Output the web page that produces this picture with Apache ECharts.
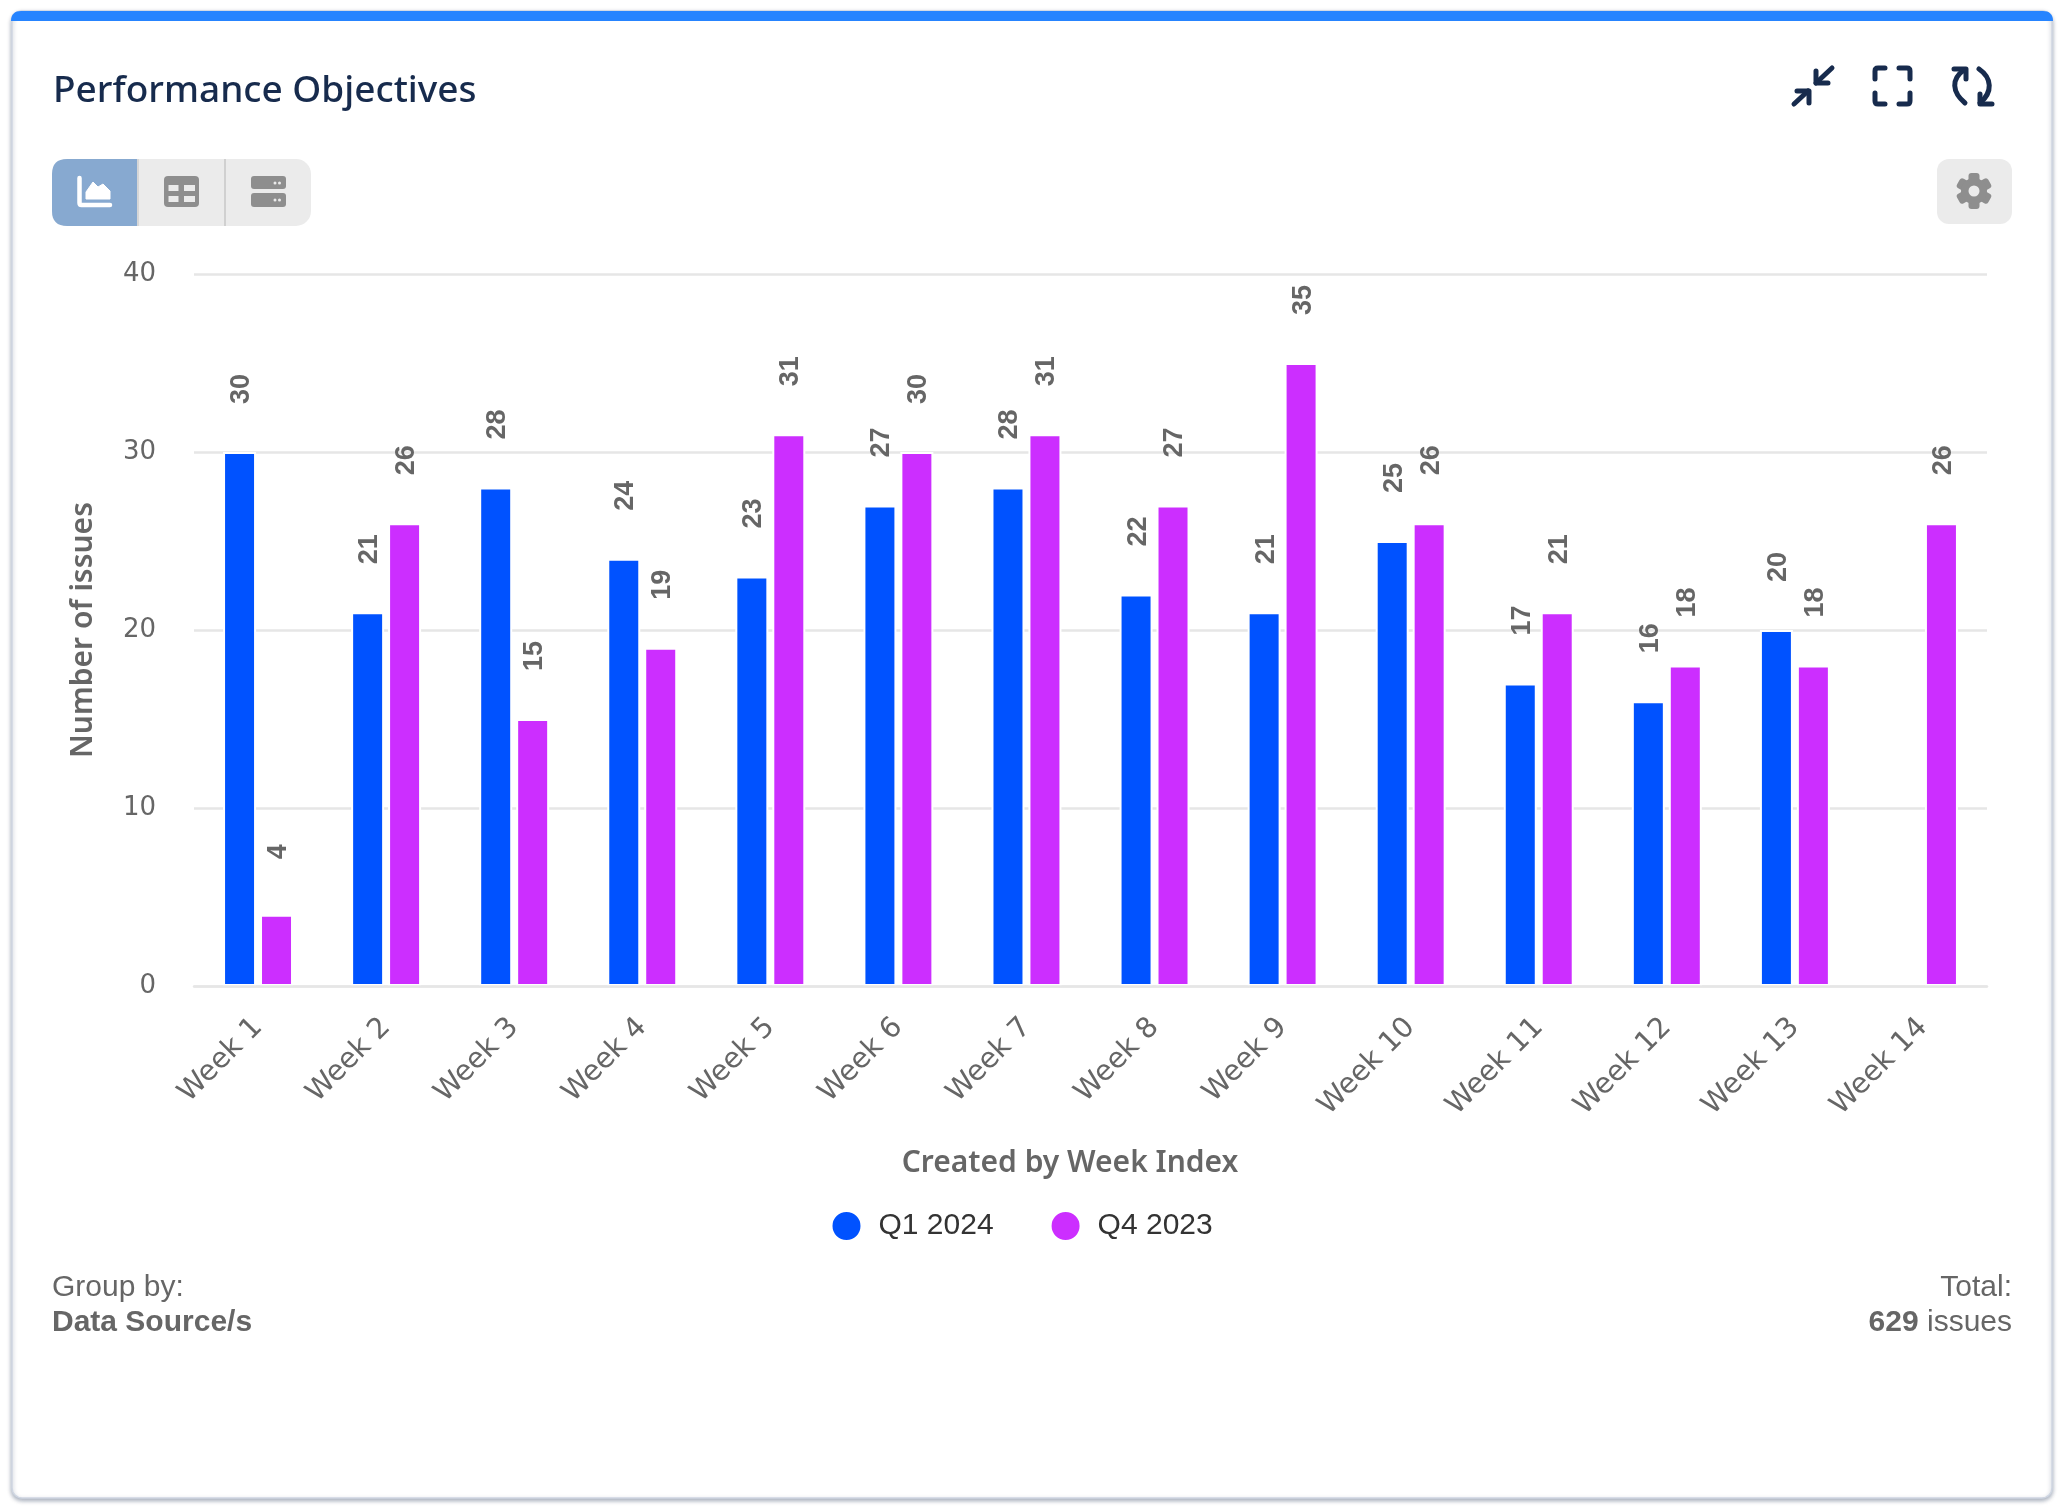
<!DOCTYPE html>
<html><head><meta charset="utf-8">
<style>html,body{margin:0;padding:0;background:#fff}#c{width:2063px;height:1510px}</style>
<script src="https://cdn.jsdelivr.net/npm/echarts@6/dist/echarts.min.js"></script>
</head><body><div id="c"></div>
<script>
const weeks = ['Week 1','Week 2','Week 3','Week 4','Week 5','Week 6','Week 7','Week 8','Week 9','Week 10','Week 11','Week 12','Week 13','Week 14'];
const q1_2024 = [30,21,28,24,23,27,28,22,21,25,17,16,20,null];
const q4_2023 = [4,26,15,19,31,30,31,27,35,26,21,18,18,26];
const yTicks = {min:0,max:40,interval:10};
const AX = '"DejaVu Sans"', AR = '"Liberation Sans"', AN='"Noto Sans"';
const NAVY='#172B4D', GR='#8E8E8E', BT='#EBEBEB';
let pn=0;
const svgPath=(d,style,extra)=>{const name='pth'+(pn++);echarts.graphic.registerShape(name,echarts.graphic.extendPath(d,{}));return Object.assign({type:name,silent:true,style},extra||{});};
const line=(points,w,color)=>({type:'polyline',silent:true,shape:{points},style:{stroke:color||NAVY,lineWidth:w||5,fill:null,lineCap:'round',lineJoin:'round'}});
const path=(d,w)=>svgPath(d,{stroke:NAVY,lineWidth:w||5,fill:null,lineCap:'round',lineJoin:'round'});
const rrect=(x,y,width,height,r,fill,z)=>({type:'rect',silent:true,z:z||0,shape:{x,y,width,height,r},style:{fill}});
const gearTeeth=[0,60,120,180,240,300].map(a=>({type:'rect',silent:true,x:1974,y:191,rotation:a*Math.PI/180,shape:{x:-5.5,y:-18,width:11,height:10,r:3},style:{fill:GR}}));
const chrome=[
 {type:'rect',silent:true,z:-3,shape:{x:12,y:11,width:2040,height:1487,r:10},style:{fill:'#fff',stroke:'#CFD6E2',lineWidth:1.5,shadowBlur:4,shadowOffsetY:2,shadowColor:'rgba(9,30,66,0.35)'}},
 svgPath('M11 21 C11 14 15 11 21 11 H2043 C2049 11 2053 14 2053 21 Z',{fill:'#2684FF'},{z:-2}),
 {type:'text',silent:true,style:{x:53,y:91,text:'Performance Objectives',font:'500 37px '+AN,fill:NAVY,textVerticalAlign:'middle'}},
 line([[1832,68],[1816,83]]),line([[1816,71],[1816,83],[1828,83]]),
 line([[1794,104],[1808,91]]),line([[1797,91],[1809,91],[1809,103]]),
 path('M1875 79 V71 Q1875 68 1878 68 H1885 M1899 68 H1907 Q1910 68 1910 71 V79 M1910 93 V101 Q1910 104 1907 104 H1899 M1885 104 H1878 Q1875 104 1875 101 V93',5),
 path('M1965 103 C1952 92 1951 79 1964 70'),line([[1954,69],[1966,69],[1966,79]]),
 path('M1979 69 C1992 78 1993 92 1980 103'),line([[1980,94],[1980,104],[1992,104]]),
 rrect(52,159,259,67,15,BT),
 svgPath('M137 159 H67 Q52 159 52 174 V211 Q52 226 67 226 H137 Z',{fill:'#87A9D0'}),
 rrect(137,159,2,67,0,'#D6D6D6'),rrect(224,159,2,67,0,'#D0D0D0'),
 svgPath('M79.5 178 V203 Q79.5 205 81.5 205 H110',{stroke:'#fff',lineWidth:4.5,fill:null,lineCap:'round'}),
 svgPath('M86 199 V192 L93 182 L98 187 L103 184 L110 191 V199 Z',{fill:'#fff',stroke:'#fff',lineWidth:1,lineJoin:'round'}),
 rrect(164,176,35,31,4,GR),
 rrect(168.5,185,10,6,0,BT),rrect(184,185,11,6,0,BT),rrect(168.5,196,10,6,0,BT),rrect(184,196,11,6,0,BT),
 rrect(251,176,35,13,3,GR),rrect(251,193,35,14,3,GR),
 {type:'circle',silent:true,shape:{cx:275,cy:183,r:1.5},style:{fill:BT}},{type:'circle',silent:true,shape:{cx:279.5,cy:183,r:1.5},style:{fill:BT}},
 {type:'circle',silent:true,shape:{cx:275,cy:200,r:1.5},style:{fill:BT}},{type:'circle',silent:true,shape:{cx:279.5,cy:200,r:1.5},style:{fill:BT}},
 rrect(1937,159,75,65,12,BT),
 ...gearTeeth,
 {type:'circle',silent:true,shape:{cx:1974,cy:191,r:13},style:{fill:GR}},
 {type:'circle',silent:true,shape:{cx:1974,cy:191,r:5.5},style:{fill:BT}},
 {type:'text',silent:true,style:{x:52,y:1288,text:'Group by:',font:'30px '+AR,fill:'#666',textVerticalAlign:'middle'}},
 {type:'text',silent:true,style:{x:52,y:1323,text:'Data Source/s',font:'bold 30px '+AR,fill:'#666',textVerticalAlign:'middle'}},
 {type:'text',silent:true,style:{x:2012,y:1288,text:'Total:',font:'30px '+AR,fill:'#666',textAlign:'right',textVerticalAlign:'middle'}},
 {type:'text',silent:true,style:{x:2012,y:1323,text:'{b|629} {n|issues}',textAlign:'right',textVerticalAlign:'middle',rich:{b:{font:'bold 30px '+AR,fill:'#666'},n:{font:'30px '+AR,fill:'#666'}},font:'30px '+AR,fill:'#666'}}
];
const lbl={show:true,position:'top',distance:63,rotate:90,align:'center',verticalAlign:'middle',offset:[0,2],color:'#666',fontFamily:AR,fontWeight:'bold',fontSize:27};
const chart=echarts.init(document.getElementById('c'),null,{width:2063,height:1510});
chart.setOption({
 animation:false,backgroundColor:'#fff',
 grid:{left:194,right:76,top:274,bottom:524,containLabel:false},
 legend:{left:830.5,top:1210,padding:0,icon:'circle',itemWidth:30,itemHeight:30,itemGap:56,
   data:['Q1 2024','Q4 2023'],textStyle:{fontFamily:AR,fontSize:30,color:'#333',padding:[0,0,0,12]}},
 xAxis:{type:'category',data:weeks,z:3,
   name:'Created by Week Index',nameLocation:'middle',nameGap:162,
   nameTextStyle:{fontFamily:AN,fontSize:30,fontWeight:600,color:'#666',padding:[0,41,0,0]},
   axisLine:{lineStyle:{color:'#E6E6E6',width:2.5}},axisTick:{show:false},
   axisLabel:{rotate:45,interval:0,margin:37,lineHeight:23,fontFamily:AX,fontSize:28.5,color:'#666'}},
 yAxis:{type:'value',min:yTicks.min,max:yTicks.max,interval:yTicks.interval,
   name:'Number of issues',nameLocation:'middle',nameGap:96,
   nameTextStyle:{fontFamily:AN,fontSize:30,fontWeight:600,color:'#666'},
   axisLine:{show:false},axisTick:{show:false},
   axisLabel:{margin:38,fontFamily:AX,fontSize:26,color:'#666'},
   splitLine:{lineStyle:{color:'#E6E6E6',width:2.5}}},
 series:[
  {name:'Q1 2024',type:'bar',data:q1_2024,barWidth:33,barGap:'12%',itemStyle:{color:'#0052FF',borderColor:'#fff',borderWidth:2},label:lbl},
  {name:'Q4 2023',type:'bar',data:q4_2023,barWidth:33,itemStyle:{color:'#CC2EFF',borderColor:'#fff',borderWidth:2},label:lbl}
 ],
 graphic:{elements:chrome}
});
</script></body></html>
